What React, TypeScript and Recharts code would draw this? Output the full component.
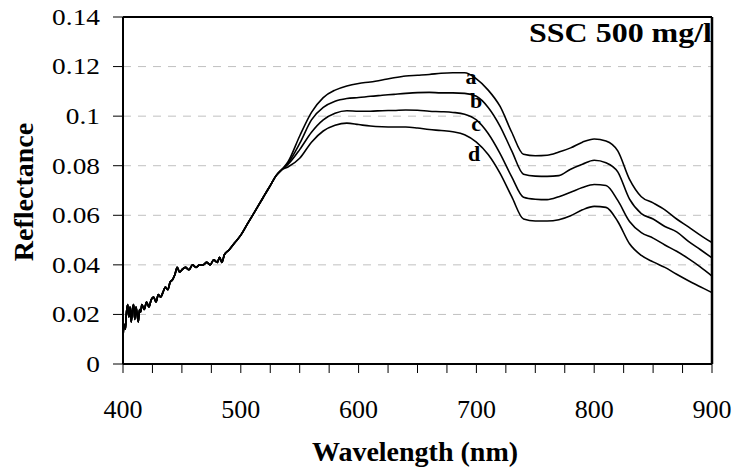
import React from "react";
import {
  LineChart,
  Line,
  XAxis,
  YAxis,
  CartesianGrid,
  ReferenceLine,
  ReferenceDot,
} from "recharts";

// ── Data ──────────────────────────────────────────────────────────
// Below ~535 nm the four spectra sit on top of each other.
const SHARED_WL = [
  400, 401, 402, 403, 404, 405, 406, 407, 408, 409, 410, 411, 412, 413, 414,
  415, 416, 418, 420, 422, 424, 426, 428, 430, 432, 434, 436, 438, 440, 442,
  444, 446, 448, 450, 453, 456, 459, 462, 465, 468, 471, 474, 477, 480, 482,
  484, 486, 490, 495, 500, 505, 510, 515, 520, 525, 530, 535,
];
const SHARED_REFL = [
  0.011, 0.016, 0.014, 0.021, 0.024, 0.019, 0.023, 0.017, 0.022, 0.024, 0.018,
  0.023, 0.02, 0.017, 0.022, 0.021, 0.024, 0.022, 0.025, 0.023, 0.026, 0.027,
  0.025, 0.028, 0.027, 0.029, 0.031, 0.03, 0.033, 0.034, 0.036, 0.039, 0.037,
  0.038, 0.039, 0.038, 0.04, 0.039, 0.04, 0.04, 0.041, 0.04, 0.042, 0.041,
  0.043, 0.041, 0.044, 0.046, 0.049, 0.052, 0.056, 0.06, 0.064, 0.068, 0.072,
  0.076, 0.0785,
];

const SPLIT_WL = [
  540, 550, 560, 570, 580, 590, 600, 610, 620, 630, 640, 650, 660, 670, 680,
  690, 700, 710, 720, 730, 740, 750, 760, 770, 780, 790, 800, 810, 820, 830,
  840, 850, 860, 870, 880, 890, 900,
];
const CURVE_A = [
  0.0815, 0.092, 0.1015, 0.1075, 0.1105, 0.1122, 0.1132, 0.1138, 0.1146,
  0.1155, 0.1162, 0.1165, 0.1168, 0.1173, 0.1175, 0.1175, 0.115, 0.1105,
  0.104, 0.0935, 0.0846, 0.084, 0.0842, 0.0855, 0.0872, 0.0895, 0.0908, 0.09,
  0.086, 0.0745, 0.0675, 0.065, 0.0622, 0.0585, 0.0553, 0.052, 0.049,
];
const CURVE_B = [
  0.081, 0.089, 0.0985, 0.1035, 0.106, 0.1071, 0.1075, 0.108, 0.1084, 0.1088,
  0.1092, 0.1095, 0.1096, 0.1094, 0.1094, 0.1092, 0.108, 0.1035, 0.096,
  0.086, 0.0766, 0.0758, 0.0757, 0.076, 0.0786, 0.0806, 0.0822, 0.0812,
  0.0775, 0.0665, 0.0607, 0.0585, 0.0555, 0.0533, 0.0495, 0.0462, 0.0428,
];
const CURVE_C = [
  0.0805, 0.0865, 0.0935, 0.0985, 0.1012, 0.1022, 0.102, 0.102, 0.1022,
  0.1023, 0.1025, 0.1024, 0.102, 0.1018, 0.1015, 0.1008, 0.0985, 0.093,
  0.085, 0.0755, 0.0673, 0.0665, 0.0663, 0.0675, 0.0693, 0.0712, 0.0724,
  0.072, 0.066, 0.0575, 0.053, 0.0508, 0.048, 0.0455, 0.0425, 0.0392, 0.0355,
];
const CURVE_D = [
  0.0795, 0.083, 0.0895, 0.094, 0.0963, 0.0972, 0.0966, 0.096, 0.0957,
  0.0956, 0.0956, 0.0952, 0.0946, 0.0942, 0.0937, 0.0925, 0.0895, 0.0845,
  0.077, 0.0675, 0.0585, 0.0577, 0.0577, 0.0582, 0.0598, 0.0622, 0.0636,
  0.0632, 0.0575, 0.0485, 0.0438, 0.0412, 0.039, 0.0362, 0.0336, 0.0312,
  0.0288,
];

const X_TICKS = [
  400, 425, 450, 475, 500, 525, 550, 575, 600, 625, 650, 675, 700, 725, 750,
  775, 800, 825, 850, 875, 900,
];
const Y_TICKS = [0, 0.02, 0.04, 0.06, 0.08, 0.1, 0.12, 0.14];

// letters placed next to each curve (wavelength, reflectance)
const CURVE_LETTERS = [
  { text: "a", wl: 695.4, refl: 0.1162 },
  { text: "b", wl: 699.7, refl: 0.1066 },
  { text: "c", wl: 699.7, refl: 0.0972 },
  { text: "d", wl: 698, refl: 0.0852 },
];

const SERIES = ["a", "b", "c", "d"];

// ── Build the table recharts wants ────────────────────────────────
const data = [
  ...SHARED_WL.map((wl, i) => ({
    wl,
    a: SHARED_REFL[i],
    b: SHARED_REFL[i],
    c: SHARED_REFL[i],
    d: SHARED_REFL[i],
  })),
  ...SPLIT_WL.map((wl, i) => ({
    wl,
    a: CURVE_A[i],
    b: CURVE_B[i],
    c: CURVE_C[i],
    d: CURVE_D[i],
  })),
];

const FONT = "Liberation Serif, Tinos, Times New Roman, Times, serif";

function XTick({ x, y, payload }: any) {
  if (payload.value % 100 !== 0) return null;
  return (
    <text x={x} y={y + 43} textAnchor="middle" style={{ fontFamily: FONT }} fontSize={26} fill="#000">
      {payload.value}
    </text>
  );
}

function YTick({ x, y, payload }: any) {
  return (
    <text
      transform={`translate(${x - 11},${y}) scale(1.19,1)`}
      x={0}
      y={0}
      dy="0.34em"
      textAnchor="end"
      style={{ fontFamily: FONT }}
      fontSize={23}
      fill="#000"
    >
      {String(payload.value)}
    </text>
  );
}

export default function App() {
  return (
    <div style={{ position: "absolute", left: 0, top: 0, width: 735, height: 476, background: "#fff", fontFamily: FONT }}>
      <LineChart
        width={735}
        height={476}
        data={data}
        margin={{ top: 17, right: 23, bottom: 52, left: 0 }}
      >
        <CartesianGrid
          vertical={false}
          stroke="#c0c0c0"
          strokeDasharray="8 7"
        />
        <XAxis
          type="number"
          dataKey="wl"
          domain={[400, 900]}
          ticks={X_TICKS}
          interval={0}
          height={60}
          tickSize={9}
          tickLine={{ stroke: "#000", strokeWidth: 1 }}
          axisLine={{ stroke: "#000", strokeWidth: 2 }}
          tick={<XTick />}
        />
        <YAxis
          type="number"
          domain={[0, 0.14]}
          ticks={Y_TICKS}
          interval={0}
          width={123}
          tickSize={10}
          tickLine={{ stroke: "#000", strokeWidth: 1 }}
          axisLine={{ stroke: "#000", strokeWidth: 2 }}
          tick={<YTick />}
        />
        <ReferenceLine y={0.14} stroke="#000" strokeWidth={2} />
        <ReferenceLine x={900} stroke="#000" strokeWidth={2.5} />
        {SERIES.map((key) => (
          <Line
            key={key}
            type="monotone"
            dataKey={key}
            stroke="#000"
            strokeWidth={1.6}
            dot={false}
            isAnimationActive={false}
          />
        ))}
        {CURVE_LETTERS.map((l) => (
          <ReferenceDot
            key={l.text}
            x={l.wl}
            y={l.refl}
            r={0}
            fill="none"
            stroke="none"
            label={{
              value: l.text,
              position: "center",
              fill: "#000",
              fontSize: 22,
              fontWeight: "bold",
              style: { fontFamily: FONT },
            }}
          />
        ))}
      </LineChart>
      <svg
        width={735}
        height={476}
        style={{ position: "absolute", left: 0, top: 0, pointerEvents: "none", fontFamily: FONT }}
      >
        <text
          x={712}
          y={42}
          textAnchor="end"
          fontWeight="bold"
          fontSize={28}
          textLength={183}
          lengthAdjust="spacingAndGlyphs"
        >
          SSC 500 mg/l
        </text>
        <text
          transform="translate(33,192) rotate(-90)"
          textAnchor="middle"
          fontWeight="bold"
          fontSize={28}
        >
          Reflectance
        </text>
        <text
          x={415}
          y={461}
          textAnchor="middle"
          fontWeight="bold"
          fontSize={28}
        >
          Wavelength (nm)
        </text>
      </svg>
    </div>
  );
}
